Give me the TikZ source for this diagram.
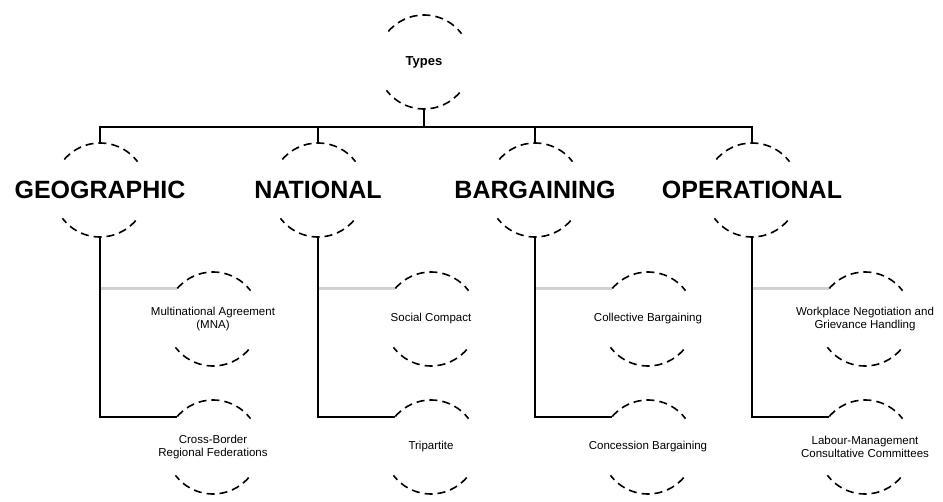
\documentclass[tikz,border=0pt]{standalone}
\usepackage{fontspec}
\setmainfont{Liberation Sans}
\usetikzlibrary{calc}
\tikzset{ring/.style={circle,minimum size=94pt,inner sep=0pt},
 lvl/.style={font=\fontsize{25}{27}\selectfont\bfseries},
 leaf/.style={font=\fontsize{11.5}{13}\selectfont,align=center},
 link/.style={line width=2.2pt},
 side/.style={line width=2.8pt,black!18},
 rim/.style={line width=1.6pt,dash pattern=on 8pt off 5pt,dash phase=2pt}}

\begin{document}
\begin{tikzpicture}[x=1pt,y=1pt]
\useasboundingbox (0,0) rectangle (943,-502);
\node[ring,label={[font=\fontsize{13}{15}\selectfont\bfseries]center:Types}] (top) at (424,-62) {};
\node[ring,label={[lvl]center:GEOGRAPHIC}] (geo) at (100,-190) {};
\node[ring,label={[lvl]center:NATIONAL}] (nat) at (318,-190) {};
\node[ring,label={[lvl]center:BARGAINING}] (bar) at (535,-190) {};
\node[ring,label={[lvl]center:OPERATIONAL}] (opr) at (752,-190) {};
\foreach \n in {geo,nat,bar,opr}{\draw[link] (top.south)--++(0,-18)-|(\n.north);}
% second row of each branch
\node[ring,label={[leaf]center:Multinational Agreement\\(MNA)}] (geo-a) at (213,-319) {};
\node[ring,label={[leaf]center:Cross-Border\\Regional Federations}] (geo-b) at (213,-447) {};
\node[ring,label={[leaf]center:Social Compact}] (nat-a) at (431,-319) {};
\node[ring,label={[leaf]center:Tripartite}] (nat-b) at (431,-447) {};
\node[ring,label={[leaf]center:Collective Bargaining}] (bar-a) at (648,-319) {};
\node[ring,label={[leaf]center:Concession Bargaining}] (bar-b) at (648,-447) {};
\node[ring,label={[leaf]center:Workplace Negotiation and\\Grievance Handling}] (opr-a) at (865,-319) {};
\node[ring,label={[leaf]center:Labour-Management\\Consultative Committees}] (opr-b) at (865,-447) {};
\foreach \n in {geo,nat,bar,opr}{
 \draw[side] (\n.south |- \n-a.140)--(\n-a.140);
 \draw[link] (\n.south)|-(\n-b.140);}
% dashed rims, top and bottom only
\foreach \n in {top,geo,nat,bar,opr,geo-a,geo-b,nat-a,nat-b,bar-a,bar-b,opr-a,opr-b}{
 \draw[rim] ($(\n.center)+(37:47)$) arc[start angle=37,end angle=143,radius=47];
 \draw[rim] ($(\n.center)+(217:47)$) arc[start angle=217,end angle=323,radius=47];}
\end{tikzpicture}
\end{document}
